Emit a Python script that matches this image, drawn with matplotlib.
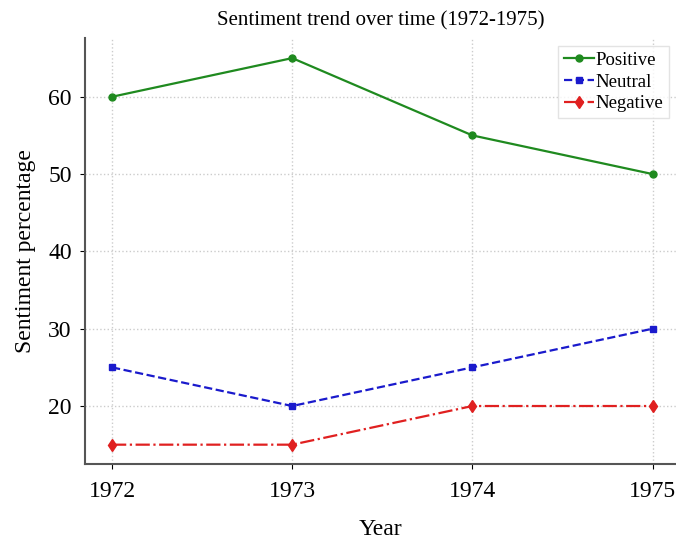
import matplotlib
matplotlib.use("Agg")
import matplotlib.pyplot as plt

years = [1972, 1973, 1974, 1975]
positive = [60, 65, 55, 50]
neutral = [25, 20, 25, 30]
negative = [15, 15, 20, 20]

plt.rcParams["font.family"] = ["Liberation Serif", "DejaVu Serif"]

fig = plt.figure(figsize=(6.76, 5.42), dpi=100)
ax = fig.add_axes([85 / 676, (542 - 464) / 542, (676 - 85) / 676, (464 - 38) / 542])

ax.plot(years, positive, color="#1f8a1f", marker="o", markersize=5, linewidth=1.6, linestyle="-", label="Positive")
ax.plot(years, neutral, color="#1a1acc", marker="s", markersize=5, linewidth=1.6, linestyle="--", label="Neutral")
ax.plot(years, negative, color="#e02020", marker="d", markersize=6, linewidth=1.6, linestyle="-.", label="Negative")

ax.set_xlim(1971.85, 1975.13)
ax.set_ylim(12.5, 67.6)
ax.set_xticks(years)
ax.set_yticks([20, 30, 40, 50, 60])
ax.tick_params(axis="x", labelsize=17, pad=9)
ax.tick_params(axis="y", labelsize=17, pad=6)
ax.grid(True, linestyle=":", color="#cccccc", linewidth=1)
ax.spines["top"].set_visible(False)
ax.spines["right"].set_visible(False)
ax.spines["left"].set_color("#555555")
ax.spines["bottom"].set_color("#555555")
ax.spines["left"].set_linewidth(1.5)
ax.spines["bottom"].set_linewidth(1.5)

ax.set_title("Sentiment trend over time (1972-1975)", fontsize=15, pad=9)
ax.set_xlabel("Year", fontsize=17, labelpad=12)
ax.set_ylabel("Sentiment percentage", fontsize=17, labelpad=9)
ax.legend(loc="upper right", bbox_to_anchor=(0.995, 0.99), fontsize=13.5, handlelength=1.6,
          handletextpad=0.1, borderpad=0.3, labelspacing=0.25, borderaxespad=0.2,
          fancybox=False, edgecolor="#dddddd")

fig.savefig("out.png", dpi=100)
